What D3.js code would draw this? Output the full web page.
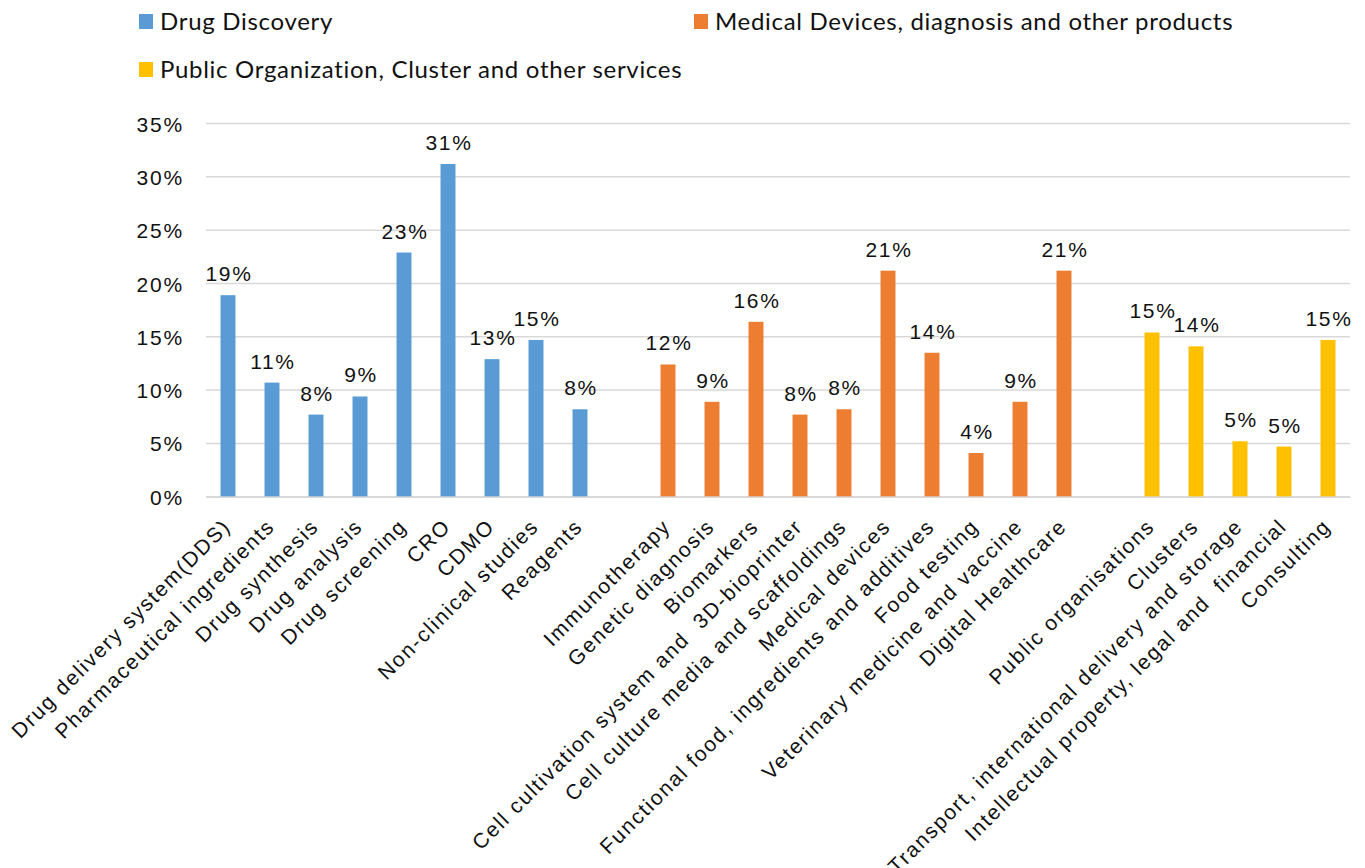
<!DOCTYPE html>
<html>
<head>
<meta charset="utf-8">
<script src="https://cdn.jsdelivr.net/npm/d3@7"></script>
<style>
  body { margin: 0; background: #fff; }
  svg { display: block; }
  .eixo text { font-family: "Liberation Sans", Arial, sans-serif; font-size: 21px; letter-spacing: 1.8px; fill: #111; }
  .rotulo { font-family: "Liberation Sans", Arial, sans-serif; font-size: 21px; letter-spacing: 1.6px; fill: #111; }
  .legenda text { font-family: Lato, "Open Sans", sans-serif; font-size: 24px; letter-spacing: 0.7px; fill: #111; }
</style>
</head>
<body>
<svg id="grafico"></svg>
<script>
// series names
const series = ['Drug Discovery', 'Medical Devices, diagnosis and other products', 'Public Organization, Cluster and other services']
const cores = ['#5B9BD5', '#ED7D31', '#FFC000']

// categories and values for each series
const drugCats = ['Drug delivery system(DDS)', 'Pharmaceutical ingredients', 'Drug synthesis', 'Drug analysis',
  'Drug screening', 'CRO', 'CDMO', 'Non-clinical studies', 'Reagents']
const drugVals = [0.189, 0.107, 0.077, 0.094, 0.229, 0.312, 0.129, 0.147, 0.082]

const medCats = ['Immunotherapy', 'Genetic diagnosis', 'Biomarkers', 'Cell cultivation system and  3D-bioprinter',
  'Cell culture media and scaffoldings', 'Medical devices', 'Functional food, ingredients and additives',
  'Food testing', 'Veterinary medicine and vaccine', 'Digital Healthcare']
const medVals = [0.124, 0.089, 0.164, 0.077, 0.082, 0.212, 0.135, 0.041, 0.089, 0.212]

const pubCats = ['Public organisations', 'Clusters', 'Transport, international delivery and storage',
  'Intellectual property, legal and  financial', 'Consulting']
const pubVals = [0.154, 0.141, 0.052, 0.047, 0.147]

const yTicks = [0, 0.05, 0.10, 0.15, 0.20, 0.25, 0.30, 0.35]

onload = () => {
  let largura = 1365, altura = 868
  let svg = d3.select('#grafico').attr('width', largura).attr('height', altura)

  // join the series into one list, with an empty slot between groups
  let grupos = [
    {cats: drugCats, vals: drugVals},
    {cats: medCats, vals: medVals},
    {cats: pubCats, vals: pubVals}
  ]
  let dados = []
  let dominio = []
  grupos.forEach((g, s) => {
    if (s > 0) dominio.push('__vazio' + s)
    g.cats.forEach((c, i) => {
      dominio.push(c)
      dados.push({chave: c, valor: g.vals[i], serie: s})
    })
  })

  let esq = 206, dir = 1350, topo = 123.5, base = 496.7

  let fnX = d3.scaleBand()
    .domain(dominio)
    .range([esq, dir])
    .paddingInner(0.66)
    .paddingOuter(0.33)

  let fnY = d3.scaleLinear()
    .domain([0, 0.35])
    .range([base, topo])

  // grade
  svg.append('g')
    .selectAll('line').data(yTicks).enter().append('line')
    .attr('x1', esq).attr('x2', dir)
    .attr('y1', d => fnY(d)).attr('y2', d => fnY(d))
    .attr('stroke', '#D9D9D9').attr('stroke-width', 1.5)

  // eixo Y
  let eixoY = d3.axisLeft(fnY)
    .tickValues(yTicks)
    .tickSize(0)
    .tickPadding(0)
    .tickFormat(d => Math.round(d * 100) + '%')
  svg.append('g')
    .attr('class', 'eixo')
    .attr('transform', 'translate(184,0)')
    .call(eixoY)
    .call(g => g.select('.domain').remove())
    .selectAll('text').attr('dy', '0.36em')

  // barras
  svg.append('g').selectAll('.barra').data(dados).enter().append('rect')
    .attr('class', 'barra')
    .attr('x', d => fnX(d.chave))
    .attr('y', d => fnY(d.valor))
    .attr('width', fnX.bandwidth())
    .attr('height', d => base - fnY(d.valor))
    .attr('fill', d => cores[d.serie])

  // rotulos dos valores
  svg.append('g').selectAll('.rotulo').data(dados).enter().append('text')
    .attr('class', 'rotulo')
    .attr('text-anchor', 'middle')
    .attr('x', d => fnX(d.chave) + fnX.bandwidth() / 2 + 1)
    .attr('y', d => fnY(d.valor) - 14)
    .text(d => Math.round(d.valor * 100) + '%')

  // eixo X com rotulos inclinados
  let eixoX = d3.axisBottom(fnX).tickSize(0).tickFormat(d => d.startsWith('__vazio') ? '' : d)
  let gx = svg.append('g')
    .attr('class', 'eixo')
    .attr('transform', 'translate(0,' + base + ')')
    .call(eixoX)
  gx.select('.domain').attr('stroke', '#D9D9D9').attr('stroke-width', 1.5)
  gx.selectAll('text')
    .attr('text-anchor', 'end')
    .attr('y', 0).attr('dy', 0)
    .attr('transform', 'translate(4,31) rotate(-45)')
    .style('white-space', 'pre')

  // legenda
  let leg = [
    {nome: series[0], x: 139, y: 22},
    {nome: series[1], x: 694, y: 22},
    {nome: series[2], x: 139, y: 70}
  ]
  let gl = svg.append('g').attr('class', 'legenda')
  leg.forEach((l, i) => {
    gl.append('rect').attr('x', l.x).attr('y', l.y - 8).attr('width', 14).attr('height', 15).attr('fill', cores[i])
    gl.append('text').attr('x', l.x + 21).attr('y', l.y).attr('dy', '0.35em').text(l.nome)
  })
}
</script>
</body>
</html>
